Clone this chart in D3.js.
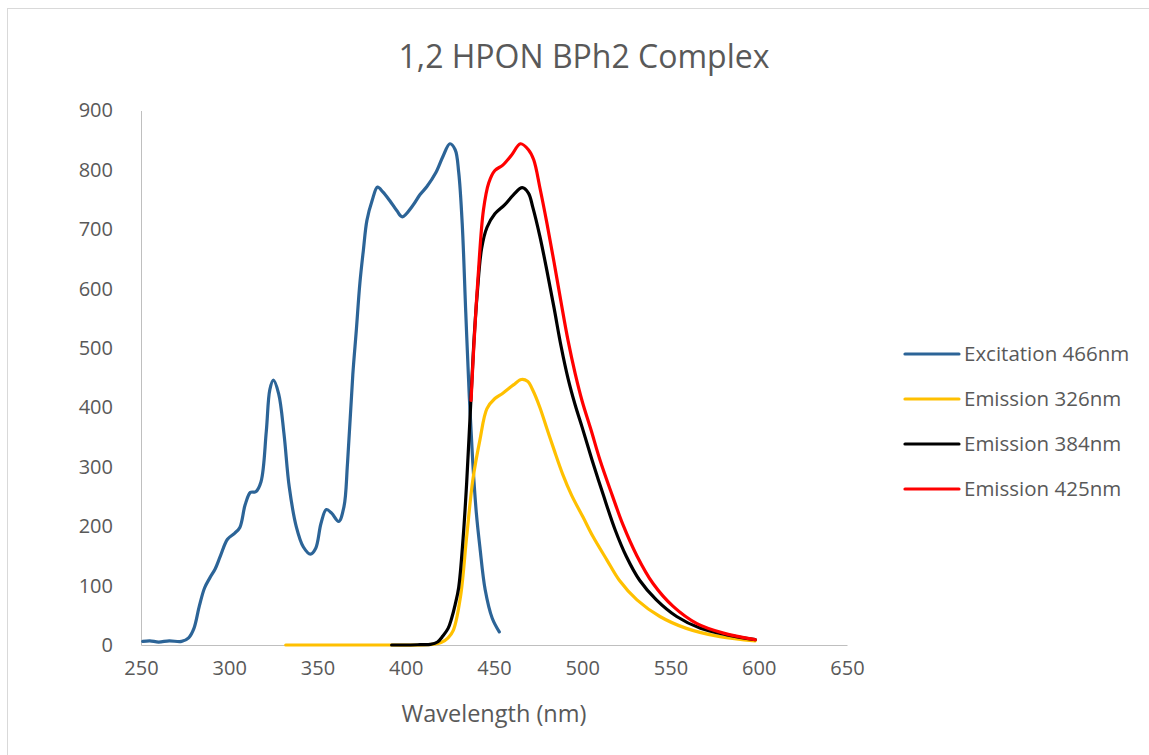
<!DOCTYPE html>
<html>
<head>
<meta charset="utf-8">
<script src="https://cdn.jsdelivr.net/npm/d3@7"></script>
<style>
    body { margin: 0; background: #fff; }
    #chart { width: 1149px; height: 755px; }
    .axis path { stroke: #bfbfbf; }
    .axis line { display: none; }
    .axis text { fill: #595959; font-family: "Open Sans", sans-serif; font-size: 20px; }
</style>
</head>
<body>
<div id="chart"></div>
<script>
// [wavelength nm, intensity]
var excitation_466 = [
    [251,6],[255,7],[260,5],[266,7],[273,6],[277,12],[280,28],[283,65],[286,96],[289,113],
    [292,128],[295,150],[299,178],[303,188],[306,198],[309,236],[312,257],[315,258],[318,275],
    [321,360],[323,430],[325,446],[328,423],[331,356],[334,266],[338,199],[342,165],[346,153],
    [349,163],[352,205],[355,228],[358,222],[362,208],[365,233],[367,306],[370,455],[372,530],
    [374,609],[376,665],[378,715],[381,749],[384,771],[387,763],[391,748],[395,731],[398,721],
    [404,740],[408,758],[412,772],[417,795],[421,822],[425,844],[428,834],[430,796],[432,709],
    [434,560],[436,418],[438,306],[440,222],[442,165],[445,93],[449,45],[453,22]
];
var emission_326 = [
    [332,0],[350,0],[370,0],[390,0],[410,0],[415,1],[420,4],[424,12],[427,25],[431,81],
    [434.5,182],[438,278],[442,345],[446,398],[450.5,415],[455,424],[461,438],[465.5,447],
    [469,444],[472,429],[476,400],[480,364],[484,329],[489,287],[494,252],[500.5,215],
    [506,183],[514,143],[521,109],[531,76],[544,48],[559,28],[578,14],[598,7]
];
var emission_384 = [
    [392,0],[400,0],[408,0.5],[414,1],[418,5],[421,15],[424,28],[426,45],[428,68],[430,97],
    [432.5,180],[434.5,272],[436.5,388],[438.5,505],[440.5,592],[443,668],[446,703],
    [450.5,726],[456,741],[461,758],[466,770],[469.5,761],[472,737],[476,688],[480,630],
    [484,568],[488,503],[492,448],[496,404],[500,366],[505.5,312],[512,252],[518.5,195],
    [525,149],[532.5,109],[542,76],[553.5,48],[567,28],[582,17],[598,9]
];
var emission_425 = [
    [437,412],[438.6,505],[441,621],[444,732],[447,778],[450.5,799],[455,808],[460,825],
    [465,844],[469.5,834],[472.5,817],[476,770],[480,710],[484,645],[488,577],[492,512],
    [496,457],[500,410],[505,362],[510,312],[517,252],[523,203],[531,150],[540,104],
    [551.5,65],[565,36],[580,20],[598,9]
];

var series_names = ["Excitation 466nm", "Emission 326nm", "Emission 384nm", "Emission 425nm"];
var series_colors = ["#2c6497", "#ffc000", "#000000", "#ff0000"];
var series_data = [excitation_466, emission_326, emission_384, emission_425];

var x_ticks = [250, 300, 350, 400, 450, 500, 550, 600, 650];
var y_ticks = [0, 100, 200, 300, 400, 500, 600, 700, 800, 900];

var chart_title = "1,2 HPON BPh2 Complex";
var x_title = "Wavelength (nm)";

function create_chart(div_id){
    var width = 1149, height = 755;
    var plot = {left: 141, right: 847, top: 110.5, bottom: 645};

    var svg = d3.select(div_id).append("svg")
        .attr("width", width)
        .attr("height", height);

    // chart border (cut by the screenshot on the right/bottom)
    svg.append("rect")
        .attr("x", 7.5).attr("y", 8.5)
        .attr("width", width + 20).attr("height", height + 20)
        .attr("fill", "none")
        .attr("stroke", "#d9d9d9");

    var xScale = d3.scaleLinear()
        .domain([250, 650])
        .range([plot.left, plot.right]);
    var yScale = d3.scaleLinear()
        .domain([0, 900])
        .range([plot.bottom, plot.top]);

    svg.append("text")
        .attr("x", 584).attr("y", 68)
        .attr("text-anchor", "middle")
        .attr("fill", "#595959")
        .style("font-family", "'Open Sans', sans-serif")
        .style("font-size", "32px")
        .text(chart_title);

    var xAxis = svg.append("g")
        .attr("class", "axis")
        .attr("transform", "translate(0," + plot.bottom + ")")
        .call(d3.axisBottom(xScale).tickValues(x_ticks).tickSize(0).tickSizeOuter(0).tickPadding(16));
    xAxis.select(".domain").attr("stroke", "#bfbfbf");

    var yAxis = svg.append("g")
        .attr("class", "axis")
        .attr("transform", "translate(" + plot.left + ",0)")
        .call(d3.axisLeft(yScale).tickValues(y_ticks).tickSize(0).tickSizeOuter(0).tickPadding(28));
    yAxis.select(".domain").attr("stroke", "#bfbfbf");

    svg.append("text")
        .attr("x", 494).attr("y", 722)
        .attr("text-anchor", "middle")
        .attr("fill", "#595959")
        .style("font-family", "'Open Sans', sans-serif")
        .style("font-size", "23.5px")
        .text(x_title);

    var line = d3.line()
        .x(function(d){ return xScale(d[0]); })
        .y(function(d){ return yScale(d[1]); })
        .curve(d3.curveCatmullRom.alpha(0.5));

    series_data.forEach(function(data, i){
        svg.append("path")
            .datum(data)
            .attr("fill", "none")
            .attr("stroke", series_colors[i])
            .attr("stroke-width", 3.2)
            .attr("stroke-linecap", "round")
            .attr("stroke-linejoin", "round")
            .attr("d", line);
    });

    var legend = svg.append("g")
        .attr("transform", "translate(905,354)");
    series_names.forEach(function(name, i){
        var row = legend.append("g")
            .attr("transform", "translate(0," + (i * 45) + ")");
        row.append("line")
            .attr("x1", 0).attr("x2", 54)
            .attr("stroke", series_colors[i])
            .attr("stroke-width", 3.2)
            .attr("stroke-linecap", "round");
        row.append("text")
            .attr("x", 59)
            .attr("dy", "0.35em")
            .attr("fill", "#595959")
            .style("font-family", "'Open Sans', sans-serif")
            .style("font-size", "20.5px")
            .text(name);
    });
}

create_chart("#chart");
</script>
</body>
</html>
